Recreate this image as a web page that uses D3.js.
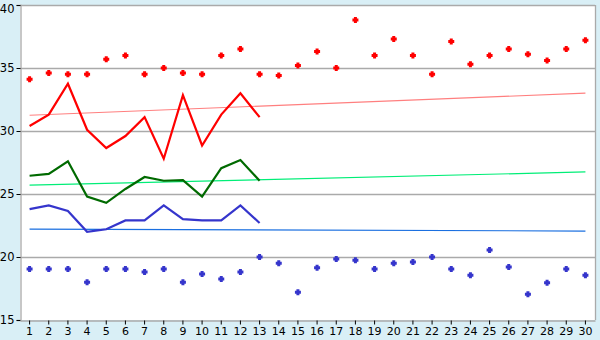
<!DOCTYPE html>
<html><head><meta charset="utf-8">
<script src="https://cdn.jsdelivr.net/npm/d3@7"></script>
<style>body{margin:0;background:#d9eff6;}svg{display:block;}</style>
</head><body>
<svg id="c" width="600" height="340"></svg>
<script>
const days = d3.range(1, 31);
const yTicks = [15, 20, 25, 30, 35, 40];
const redPts = [34.1,34.6,34.5,34.5,35.7,36.0,34.5,35.0,34.6,34.5,36.0,36.5,34.5,34.4,35.2,36.3,35.0,38.8,36.0,37.3,36.0,34.5,37.1,35.3,36.0,36.5,36.1,35.6,36.5,37.2];
const bluePts = [19.05,19.05,19.05,18.0,19.05,19.05,18.8,19.05,18.0,18.65,18.25,18.8,20.0,19.5,17.2,19.15,19.85,19.75,19.05,19.5,19.6,20.0,19.05,18.55,20.55,19.2,17.05,17.95,19.05,18.55];
const redLine = [30.4,31.3,33.75,30.1,28.65,29.6,31.1,27.8,32.85,28.85,31.3,33.0,31.1];
const greenLine = [26.45,26.6,27.6,24.8,24.3,25.4,26.35,26.05,26.1,24.8,27.05,27.7,26.05];
const blueLine = [23.8,24.1,23.65,22.0,22.2,22.9,22.9,24.1,23.0,22.9,22.9,24.1,22.7];
const redTrend = [31.25, 33.0];
const greenTrend = [25.7, 26.75];
const blueTrend = [22.22, 22.06];

const svg = d3.select("#c");
const L = 20, R = 595, T = 5, B = 320;
const x = d3.scaleBand().domain(days).range([L, R]);
const cx = d => x(d) + x.bandwidth() / 2;
const y = d3.scaleLinear().domain([15, 40]).range([B, T]);

svg.append("rect").attr("x", L).attr("y", T).attr("width", R - L).attr("height", B - T).attr("fill", "#fff");

// grid
svg.append("g").selectAll("line").data(yTicks.slice(1)).join("line")
  .attr("x1", L).attr("x2", R).attr("y1", d => Math.round(y(d)) + 0.5).attr("y2", d => Math.round(y(d)) + 0.5)
  .attr("stroke", "#aaaaaa").attr("stroke-width", 1.3);
svg.append("line").attr("x1", R + 0.5).attr("x2", R + 0.5).attr("y1", T).attr("y2", B)
  .attr("stroke", "#aaaaaa").attr("stroke-width", 1.3);

// axes
const yAxis = d3.axisLeft(y).tickValues(yTicks).tickSize(4).tickPadding(2);
const gy = svg.append("g").attr("transform", `translate(${L + 0.5},0)`).call(yAxis);
gy.select(".domain").attr("stroke", "#aaaaaa").attr("stroke-width", 1.3);
gy.selectAll(".tick line").attr("stroke", "#000");
gy.selectAll("text").attr("font-family", "DejaVu Sans, Verdana, sans-serif").attr("font-size", 11.5).attr("fill", "#000")
  .attr("dy", d => d === 40 ? "0.62em" : "0.32em");

const xAxis = d3.axisBottom(x).tickSize(4).tickSizeOuter(0).tickPadding(3);
const gx = svg.append("g").attr("transform", `translate(0,${B + 0.5})`).call(xAxis);
gx.select(".domain").attr("stroke", "#aaaaaa").attr("stroke-width", 1.3);
gx.selectAll(".tick line").attr("stroke", "#000");
gx.selectAll("text").attr("font-family", "DejaVu Sans, Verdana, sans-serif").attr("font-size", 11).attr("fill", "#000");

// trends
function trend(vals, color) {
  svg.append("line").attr("x1", cx(1)).attr("x2", cx(30))
    .attr("y1", y(vals[0])).attr("y2", y(vals[1]))
    .attr("stroke", color).attr("stroke-width", 1.2);
}
trend(redTrend, "#ff7f7f");
trend(greenTrend, "#00ee77");
trend(blueTrend, "#1a6fe0");

// lines
const line = d3.line().x((d, i) => cx(days[i])).y(d => y(d));
function drawLine(vals, color) {
  svg.append("path").attr("d", line(vals)).attr("fill", "none")
    .attr("stroke", color).attr("stroke-width", 2.2).attr("stroke-linejoin", "miter");
}
drawLine(greenLine, "#006a00");
drawLine(blueLine, "#3535cc");
drawLine(redLine, "#ff0000");

// points: small thick plus markers
const marker = {
  draw(ctx) {
    const a = 1.5, b = 3;
    ctx.moveTo(-a, -b); ctx.lineTo(a, -b); ctx.lineTo(a, -a); ctx.lineTo(b, -a);
    ctx.lineTo(b, a); ctx.lineTo(a, a); ctx.lineTo(a, b); ctx.lineTo(-a, b);
    ctx.lineTo(-a, a); ctx.lineTo(-b, a); ctx.lineTo(-b, -a); ctx.lineTo(-a, -a);
    ctx.closePath();
  }
};
const sym = d3.symbol().type(marker);
function pts(vals, color) {
  svg.append("g").selectAll("path").data(vals).join("path")
    .attr("transform", (d, i) => `translate(${cx(days[i])},${y(d)})`)
    .attr("d", sym).attr("fill", color);
}
pts(redPts, "#ff0000");
pts(bluePts, "#3535cc");
</script>
</body></html>
